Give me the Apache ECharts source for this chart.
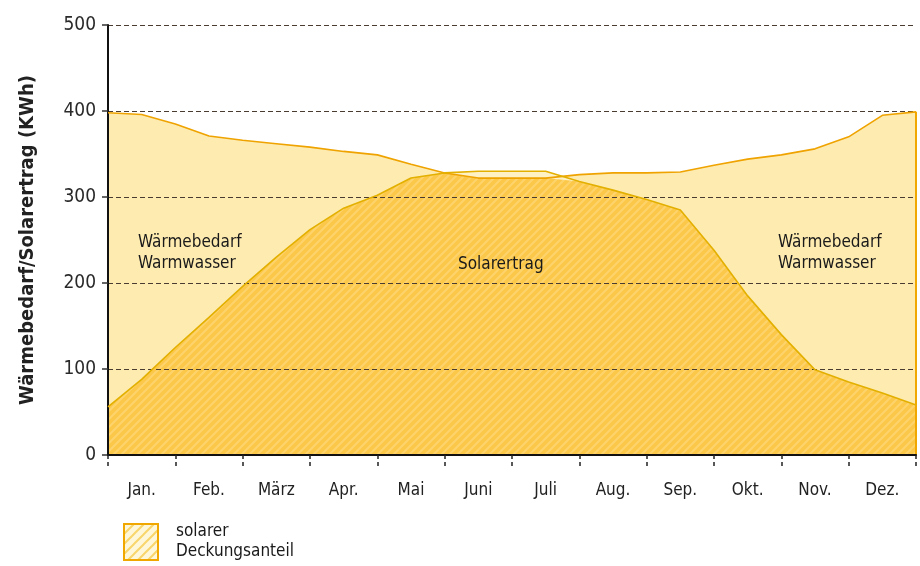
<!DOCTYPE html>
<html>
<head>
<meta charset="utf-8">
<script src="https://cdn.jsdelivr.net/npm/echarts@6/dist/echarts.min.js"></script>
<style>
  html, body { margin: 0; padding: 0; background: #fff; }
  #chart { width: 920px; height: 566px; }
</style>
</head>
<body>
<div id="chart"></div>
<script>
// month labels, positions on the x scale (0 = start Jan, 12 = end Dez)
var months = ["Jan.", "Feb.", "März", "Apr.", "Mai", "Juni", "Juli", "Aug.", "Sep.", "Okt.", "Nov.", "Dez."];
var monthPos = [0, 0.5, 1, 1.5, 2, 2.5, 3, 3.5, 4, 4.5, 5, 5.5, 6, 6.5, 7, 7.5, 8, 8.5, 9, 9.5, 10, 10.5, 11, 11.5, 12];
// Wärmebedarf Warmwasser (kWh)
var demand = [398, 396, 385, 371, 366, 362, 358, 353, 349, 338, 328, 322, 322, 322, 326, 328, 328, 329, 337, 344, 349, 356, 370, 395, 399];
// Solarertrag (kWh)
var solar = [56, 88, 125, 160, 196, 230, 262, 287, 302, 322, 328, 330, 330, 330, 318, 308, 297, 285, 238, 185, 140, 99, 85, 72, 58];
var yTicks = [0, 100, 200, 300, 400, 500];

var FONT = "'Liberation Sans Narrow', 'DejaVu Sans Condensed', 'Roboto Condensed', sans-serif";

function pairs(ys) {
    var out = [];
    for (var i = 0; i < monthPos.length; i++) out.push([monthPos[i], ys[i]]);
    return out;
}
// solarer Deckungsanteil = overlap of both areas
var cover = [];
for (var i = 0; i < demand.length; i++) cover.push(Math.min(demand[i], solar[i]));

function hatch(base, stripe, size, w) {
    var c = document.createElement("canvas");
    c.width = size; c.height = size;
    var g = c.getContext("2d");
    g.fillStyle = base;
    g.fillRect(0, 0, size, size);
    g.strokeStyle = stripe;
    g.lineWidth = w;
    g.beginPath();
    g.moveTo(-1, size + 1); g.lineTo(size + 1, -1);
    g.moveTo(-1, 1); g.lineTo(1, -1);
    g.moveTo(size - 1, size + 1); g.lineTo(size + 1, size - 1);
    g.stroke();
    return c;
}
var overlapPattern = hatch("#FCC84A", "#FDD36C", 8, 2);
var legendPattern = hatch("#FFF7DA", "#F9D66C", 10, 2);

var last = monthPos.length - 1;

var chart = echarts.init(document.getElementById("chart"));
chart.setOption({
    animation: false,
    grid: { left: 108, right: 4, top: 25, bottom: 111 },
    xAxis: [{
        type: "value", min: 0, max: 12, interval: 1, z: 6,
        axisLine: { show: true, onZero: false, lineStyle: { color: "#111", width: 2 } },
        axisTick: { show: true, length: 12, lineStyle: { color: "#222", width: 1.5, type: [4, 3] } },
        axisLabel: { show: false },
        splitLine: { show: false }
    }, {
        type: "category", data: months, boundaryGap: true, position: "bottom",
        axisLine: { show: false }, axisTick: { show: false },
        axisLabel: { margin: 27, fontFamily: FONT, fontSize: 17, color: "#222" }
    }],
    yAxis: {
        type: "value", min: yTicks[0], max: yTicks[yTicks.length - 1], interval: 100, z: 5,
        name: "Wärmebedarf/Solarertrag (KWh)",
        nameLocation: "middle", nameGap: 70, nameRotate: 90,
        nameTextStyle: { fontFamily: FONT, fontSize: 20, fontWeight: "bold", color: "#222" },
        axisLine: { show: true, lineStyle: { color: "#111", width: 2 } },
        axisTick: { show: true, length: 6, lineStyle: { color: "#333", width: 1.5 } },
        axisLabel: { margin: 12, fontFamily: FONT, fontSize: 19, color: "#2a2a2a" },
        splitLine: { show: true, lineStyle: { color: "#4a3c30", width: 1.2, type: [5, 3] } }
    },
    series: [{
        name: "Wärmebedarf", type: "line", data: pairs(demand), z: 1,
        symbol: "none", lineStyle: { width: 0 },
        areaStyle: { color: "#FEEBB0", opacity: 1 }
    }, {
        name: "Solarertrag", type: "line", data: pairs(solar), z: 1,
        symbol: "none", lineStyle: { width: 0 },
        areaStyle: { color: "#FEF1C4", opacity: 1 }
    }, {
        name: "solarer Deckungsanteil", type: "line", data: pairs(cover), z: 2,
        symbol: "none", lineStyle: { width: 0 },
        areaStyle: { color: { image: overlapPattern, repeat: "repeat" }, opacity: 1 }
    }, {
        name: "Bedarf Linie", type: "line", data: pairs(demand), z: 7,
        symbol: "none", lineStyle: { color: "#EFA300", width: 1.6 },
        markLine: {
            silent: true, symbol: "none", label: { show: false },
            lineStyle: { color: "#F0A800", width: 2, type: "solid" },
            data: [[{ coord: [monthPos[last], 0] }, { coord: [monthPos[last], demand[last]] }]]
        }
    }, {
        name: "Solar Linie", type: "line", data: pairs(solar), z: 7,
        symbol: "none", lineStyle: { color: "#E3B000", width: 1.6 }
    }],
    graphic: [
        { type: "text", left: 138, top: 232, z: 10,
          style: { text: "Wärmebedarf\nWarmwasser", font: "17px " + FONT, fill: "#1a1a1a", lineHeight: 21 } },
        { type: "text", left: 778, top: 232, z: 10,
          style: { text: "Wärmebedarf\nWarmwasser", font: "17px " + FONT, fill: "#1a1a1a", lineHeight: 21 } },
        { type: "text", left: 458, top: 256, z: 10,
          style: { text: "Solarertrag", font: "17px " + FONT, fill: "#1a1a1a" } },
        { type: "rect", left: 123, top: 523, z: 10,
          shape: { width: 34, height: 36 },
          style: { fill: { image: legendPattern, repeat: "repeat" }, stroke: "#F0A800", lineWidth: 2 } },
        { type: "text", left: 176, top: 522, z: 10,
          style: { text: "solarer\nDeckungsanteil", font: "17px " + FONT, fill: "#1a1a1a", lineHeight: 20 } }
    ]
});
</script>
</body>
</html>
